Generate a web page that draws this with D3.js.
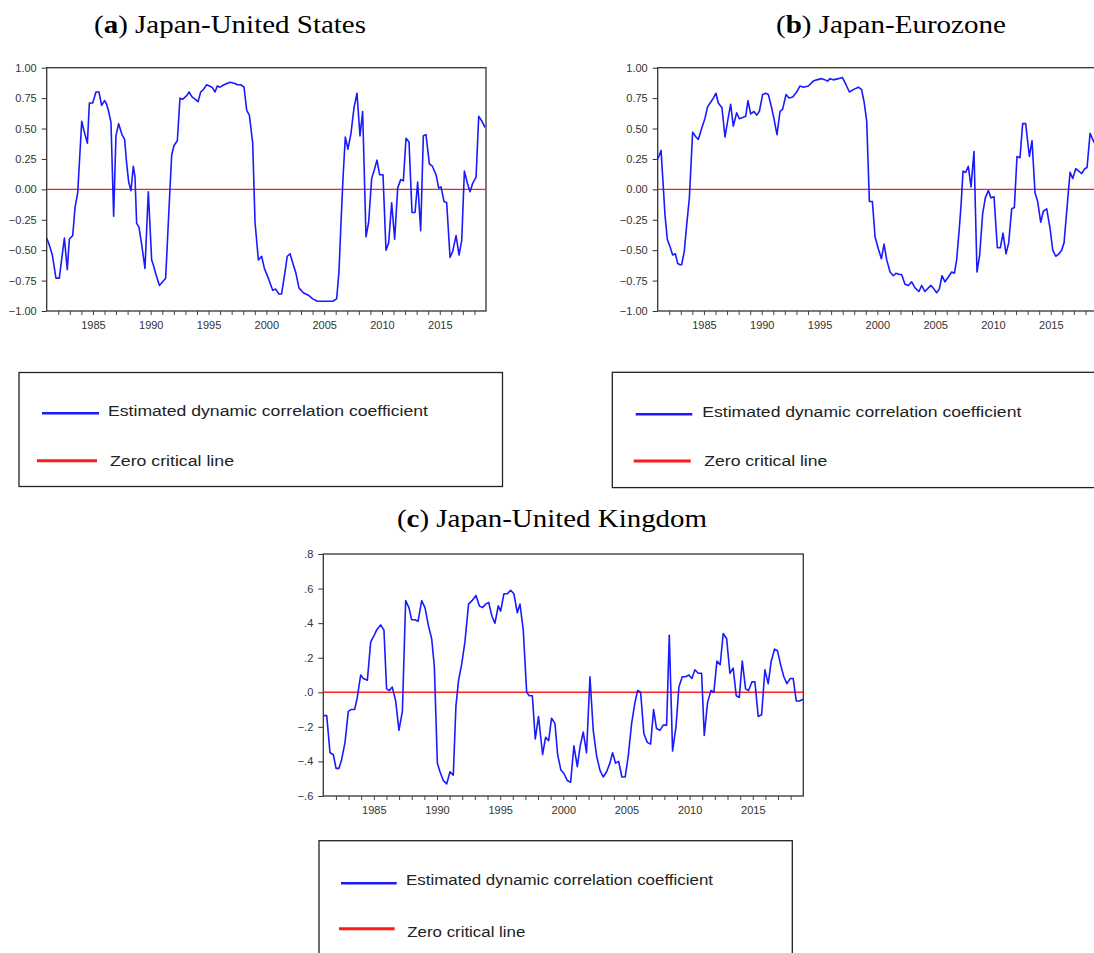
<!DOCTYPE html>
<html><head><meta charset="utf-8">
<script src="https://cdn.jsdelivr.net/npm/d3@7"></script>
<style>body{margin:0;background:#fff}svg{display:block}</style>
</head><body>
<svg id="chart" width="1094" height="953"></svg>
<script>
// ---------- data ----------
const usYears=[1981.00,1981.23,1981.49,1981.80,1982.09,1982.53,1982.78,1982.96,1983.25,1983.45,1983.68,1984.03,1984.23,1984.52,1984.69,1984.98,1985.26,1985.52,1985.75,1986.01,1986.18,1986.36,1986.56,1986.79,1986.99,1987.22,1987.51,1987.74,1987.91,1988.09,1988.29,1988.49,1988.64,1988.78,1988.98,1989.21,1989.50,1989.79,1990.08,1990.22,1990.45,1990.75,1991.03,1991.29,1991.61,1991.81,1992.01,1992.30,1992.53,1992.76,1993.11,1993.31,1993.57,1993.86,1994.09,1994.32,1994.55,1994.84,1995.07,1995.30,1995.56,1995.76,1995.99,1996.34,1996.86,1997.29,1997.49,1997.78,1998.07,1998.30,1998.53,1998.82,1999.02,1999.31,1999.59,1999.83,2000.17,2000.55,2000.81,2001.09,2001.32,2001.61,2001.81,2002.05,2002.33,2002.56,2002.82,2003.20,2003.63,2004.01,2004.41,2004.93,2005.36,2005.74,2006.08,2006.28,2006.46,2006.63,2006.83,2007.06,2007.32,2007.58,2007.84,2008.10,2008.33,2008.62,2008.85,2009.11,2009.34,2009.57,2009.80,2010.09,2010.35,2010.58,2010.84,2011.10,2011.36,2011.62,2011.85,2012.08,2012.34,2012.60,2012.86,2013.09,2013.35,2013.58,2013.81,2014.10,2014.36,2014.68,2014.91,2015.11,2015.37,2015.60,2015.89,2016.12,2016.41,2016.67,2016.90,2017.13,2017.39,2017.62,2017.85,2018.14,2018.37,2018.65,2018.91];
const usCorr=[-0.40,-0.46,-0.54,-0.73,-0.73,-0.40,-0.66,-0.41,-0.38,-0.15,-0.03,0.56,0.48,0.38,0.71,0.71,0.80,0.80,0.69,0.73,0.70,0.64,0.55,-0.22,0.44,0.54,0.45,0.41,0.22,0.06,-0.01,0.19,0.10,-0.28,-0.31,-0.45,-0.65,-0.02,-0.58,-0.62,-0.70,-0.79,-0.76,-0.73,-0.10,0.28,0.36,0.40,0.75,0.74,0.77,0.80,0.76,0.74,0.72,0.80,0.82,0.86,0.85,0.84,0.80,0.85,0.84,0.86,0.88,0.87,0.86,0.86,0.84,0.65,0.61,0.38,-0.27,-0.58,-0.55,-0.65,-0.73,-0.83,-0.82,-0.86,-0.86,-0.68,-0.55,-0.53,-0.62,-0.69,-0.81,-0.85,-0.87,-0.90,-0.92,-0.92,-0.92,-0.92,-0.90,-0.68,-0.27,0.09,0.43,0.33,0.46,0.67,0.79,0.44,0.64,-0.39,-0.27,0.09,0.16,0.24,0.12,0.12,-0.50,-0.44,-0.11,-0.41,0.01,0.08,0.07,0.42,0.39,-0.19,-0.19,0.06,-0.34,0.44,0.45,0.21,0.19,0.12,0.01,0.02,-0.10,-0.11,-0.56,-0.51,-0.38,-0.54,-0.42,0.15,0.05,-0.02,0.05,0.10,0.60,0.56,0.51];

const euYears=[1981.00,1981.14,1981.29,1981.49,1981.63,1981.83,1982.06,1982.29,1982.53,1982.73,1982.93,1983.07,1983.30,1983.51,1983.74,1984.02,1984.31,1984.51,1984.80,1985.08,1985.32,1985.61,1985.81,1986.04,1986.24,1986.56,1986.82,1987.05,1987.31,1987.54,1987.83,1988.06,1988.35,1988.61,1988.81,1989.04,1989.33,1989.56,1989.79,1990.08,1990.34,1990.57,1990.83,1991.06,1991.32,1991.58,1991.81,1992.10,1992.36,1992.68,1993.02,1993.31,1993.60,1994.03,1994.46,1994.75,1995.18,1995.47,1995.70,1995.90,1996.19,1996.62,1996.97,1997.29,1997.58,1997.92,1998.36,1998.64,1998.85,1999.08,1999.31,1999.57,1999.80,2000.09,2000.35,2000.58,2000.81,2001.10,2001.38,2001.61,2001.90,2002.10,2002.39,2002.68,2002.97,2003.26,2003.60,2003.83,2004.12,2004.41,2004.64,2004.90,2005.13,2005.36,2005.59,2005.85,2006.14,2006.43,2006.66,2006.86,2007.09,2007.24,2007.41,2007.64,2007.87,2008.10,2008.36,2008.62,2008.85,2009.11,2009.34,2009.60,2009.83,2010.09,2010.38,2010.64,2010.87,2011.13,2011.36,2011.62,2011.85,2012.08,2012.34,2012.57,2012.83,2013.15,2013.38,2013.64,2013.87,2014.13,2014.36,2014.65,2014.94,2015.17,2015.43,2015.71,2015.94,2016.15,2016.38,2016.67,2016.90,2017.16,2017.42,2017.68,2017.94,2018.14,2018.40,2018.68,2018.90];
const euCorr=[0.25,0.28,0.32,0.01,-0.21,-0.41,-0.47,-0.54,-0.53,-0.61,-0.62,-0.62,-0.51,-0.29,-0.07,0.47,0.43,0.41,0.50,0.58,0.68,0.72,0.75,0.79,0.71,0.67,0.43,0.56,0.70,0.52,0.63,0.58,0.59,0.60,0.73,0.62,0.64,0.61,0.64,0.78,0.79,0.78,0.68,0.58,0.45,0.64,0.66,0.78,0.75,0.76,0.80,0.85,0.84,0.85,0.89,0.90,0.91,0.90,0.89,0.91,0.90,0.91,0.92,0.86,0.80,0.82,0.84,0.82,0.72,0.56,-0.10,-0.10,-0.39,-0.49,-0.57,-0.45,-0.58,-0.68,-0.71,-0.69,-0.70,-0.70,-0.78,-0.79,-0.76,-0.81,-0.84,-0.79,-0.84,-0.81,-0.79,-0.82,-0.85,-0.82,-0.71,-0.76,-0.72,-0.68,-0.69,-0.58,-0.32,-0.13,0.15,0.14,0.19,0.02,0.31,-0.68,-0.54,-0.20,-0.07,-0.01,-0.07,-0.06,-0.48,-0.48,-0.36,-0.53,-0.44,-0.16,-0.15,0.27,0.26,0.54,0.54,0.27,0.40,-0.03,-0.10,-0.27,-0.18,-0.16,-0.32,-0.50,-0.55,-0.53,-0.50,-0.44,-0.18,0.14,0.09,0.17,0.15,0.13,0.17,0.18,0.46,0.40,0.36];

const ukYears=[1981.00,1981.27,1981.53,1981.79,1982.01,1982.24,1982.45,1982.72,1982.98,1983.19,1983.48,1983.69,1983.96,1984.17,1984.49,1984.75,1984.96,1985.22,1985.54,1985.80,1986.01,1986.23,1986.46,1986.73,1986.99,1987.26,1987.52,1987.78,1987.99,1988.26,1988.50,1988.79,1989.05,1989.31,1989.58,1989.79,1990.03,1990.24,1990.50,1990.77,1991.03,1991.29,1991.50,1991.71,1991.95,1992.21,1992.50,1992.77,1993.09,1993.35,1993.61,1993.85,1994.09,1994.35,1994.59,1994.85,1995.04,1995.30,1995.57,1995.83,1996.09,1996.36,1996.57,1996.83,1997.10,1997.31,1997.55,1997.78,1998.04,1998.36,1998.60,1998.84,1999.07,1999.34,1999.55,1999.81,2000.05,2000.31,2000.58,2000.84,2001.11,2001.34,2001.58,2001.84,2002.11,2002.37,2002.64,2002.90,2003.16,2003.43,2003.69,2003.90,2004.14,2004.38,2004.64,2004.90,2005.14,2005.41,2005.67,2005.88,2006.12,2006.38,2006.65,2006.91,2007.15,2007.38,2007.65,2007.91,2008.18,2008.39,2008.65,2008.92,2009.15,2009.42,2009.68,2009.94,2010.18,2010.42,2010.68,2010.95,2011.16,2011.42,2011.69,2011.92,2012.16,2012.42,2012.66,2012.93,2013.19,2013.45,2013.69,2013.93,2014.17,2014.43,2014.67,2014.93,2015.17,2015.43,2015.70,2015.96,2016.22,2016.46,2016.73,2016.96,2017.20,2017.46,2017.70,2017.97,2018.20,2018.44,2018.70,2018.99];
const ukCorr=[-0.135,-0.135,-0.35,-0.36,-0.44,-0.44,-0.39,-0.29,-0.11,-0.10,-0.10,-0.03,0.10,0.08,0.07,0.29,0.32,0.36,0.39,0.36,0.02,0.01,0.03,-0.05,-0.22,-0.11,0.53,0.49,0.42,0.42,0.41,0.53,0.49,0.39,0.31,0.15,-0.41,-0.46,-0.51,-0.53,-0.46,-0.48,-0.08,0.07,0.16,0.29,0.51,0.53,0.56,0.50,0.49,0.51,0.52,0.44,0.40,0.50,0.47,0.57,0.57,0.59,0.57,0.46,0.51,0.36,0.00,-0.02,-0.02,-0.27,-0.14,-0.36,-0.26,-0.28,-0.15,-0.18,-0.36,-0.45,-0.47,-0.51,-0.52,-0.31,-0.43,-0.31,-0.23,-0.35,0.09,-0.22,-0.37,-0.45,-0.49,-0.46,-0.41,-0.35,-0.41,-0.40,-0.49,-0.49,-0.37,-0.18,-0.06,0.01,0.00,-0.24,-0.29,-0.30,-0.10,-0.21,-0.22,-0.19,-0.19,0.33,-0.34,-0.20,0.03,0.09,0.09,0.10,0.08,0.13,0.11,0.11,-0.25,-0.06,0.01,0.00,0.18,0.16,0.34,0.31,0.11,0.14,-0.02,-0.03,0.18,0.02,0.01,0.06,0.06,-0.14,-0.13,0.13,0.05,0.18,0.25,0.24,0.16,0.09,0.05,0.08,0.08,-0.05,-0.05,-0.04];

const yearTicks=d3.range(1982,2019);
const labelYears=[1985,1990,1995,2000,2005,2010,2015];
const yTicksAB=[-1,-0.75,-0.5,-0.25,0,0.25,0.5,0.75,1];
const yTicksC=[-0.6,-0.4,-0.2,0,0.2,0.4,0.6,0.8];
const titleLetters=["a","b","c"];
const titleNames=["Japan-United States","Japan-Eurozone","Japan-United Kingdom"];
const legendLabels=["Estimated dynamic correlation coefficient","Zero critical line"];

// ---------- drawing ----------
const svg=d3.select("#chart");
svg.append("rect").attr("width",1094).attr("height",953).attr("fill","#fff");
const SANS="'Liberation Sans', Arial, sans-serif";
const SERIF="'Liberation Serif', 'Times New Roman', serif";

function panel(id,box,yDomain,yTicks,fmt,years,vals){
  const x=d3.scaleLinear().domain([1981,2019]).range([box.l,box.r]);
  const y=d3.scaleLinear().domain(yDomain).range([box.b,box.t]);
  const g=svg.append("g");
  g.append("clipPath").attr("id","clip"+id).append("rect")
    .attr("x",box.l).attr("y",box.t).attr("width",box.r-box.l).attr("height",box.b-box.t);
  // y axis
  const ya=g.append("g").attr("transform",`translate(${box.l},0)`)
    .call(d3.axisLeft(y).tickValues(yTicks).tickSize(5).tickPadding(5).tickFormat(fmt));
  ya.select(".domain").remove();
  ya.selectAll("line").attr("stroke","#333");
  ya.selectAll("text").attr("font-family",SANS).attr("font-size",11).attr("fill","#333");
  // x axis: yearly ticks, labels every five years
  const xa=g.append("g").attr("transform",`translate(0,${box.b})`)
    .call(d3.axisBottom(x).tickValues(yearTicks).tickSize(4).tickPadding(6)
      .tickFormat(d=>labelYears.includes(d)?String(d):""));
  xa.select(".domain").remove();
  xa.selectAll("line").attr("stroke","#444");
  xa.selectAll("text").attr("font-family",SANS).attr("font-size",11).attr("fill","#333");
  // frame
  g.append("rect").attr("x",box.l).attr("y",box.t).attr("width",box.r-box.l).attr("height",box.b-box.t)
    .attr("fill","none").attr("stroke","#333").attr("stroke-width",1.3);
  // zero line
  g.append("line").attr("clip-path",`url(#clip${id})`)
    .attr("x1",box.l).attr("x2",box.r).attr("y1",y(0)).attr("y2",y(0))
    .attr("stroke","#ff2020").attr("stroke-width",1.4);
  // series
  const pts=years.map((t,i)=>[t,vals[i]]);
  g.append("path").datum(pts).attr("clip-path",`url(#clip${id})`)
    .attr("d",d3.line().x(d=>x(d[0])).y(d=>y(d[1])))
    .attr("fill","none").attr("stroke","#1a1aff").attr("stroke-width",1.6)
    .attr("stroke-linejoin","round");
}

function title(i,x,base,w){
  const t=svg.append("text").attr("x",x).attr("y",base)
    .attr("font-family",SERIF).attr("font-size",25.5).attr("fill","#000")
    .attr("textLength",w).attr("lengthAdjust","spacingAndGlyphs");
  t.append("tspan").text("(");
  t.append("tspan").attr("font-weight","bold").text(titleLetters[i]);
  t.append("tspan").text(") "+titleNames[i]);
}

function legend(bx,lines){
  svg.append("rect").attr("x",bx.x).attr("y",bx.y).attr("width",bx.w).attr("height",bx.h)
    .attr("fill","none").attr("stroke","#222").attr("stroke-width",1.3);
  const cols=["#1a1aff","#ff1a1a"];
  lines.forEach((l,i)=>{
    svg.append("line").attr("x1",l.x1).attr("x2",l.x2).attr("y1",l.y).attr("y2",l.y)
      .attr("stroke",cols[i]).attr("stroke-width",i===0?2.6:3);
    svg.append("text").attr("x",l.tx).attr("y",l.ty).text(legendLabels[i])
      .attr("font-family",SANS).attr("font-size",15.5).attr("fill","#222")
      .attr("textLength",l.tw).attr("lengthAdjust","spacingAndGlyphs");
  });
}

const fmtAB=d3.format(".2f");
const fmtC=d=>d3.format(".1f")(d).replace("0.",".");

panel("a",{l:46.7,r:486,t:67.7,b:311},[-1,1],yTicksAB,fmtAB,usYears,usCorr);
panel("b",{l:657.7,r:1097,t:67.7,b:311},[-1,1],yTicksAB,fmtAB,euYears,euCorr);
panel("c",{l:323.3,r:803.3,t:554,b:796},[-0.6,0.8],yTicksC,fmtC,ukYears,ukCorr);

title(0,94,33,272);
title(1,776,33,230);
title(2,397,526.5,310);

legend({x:19,y:372.5,w:483.5,h:114},[
  {x1:42,x2:99,y:413.3,tx:108,ty:415.5,tw:320},
  {x1:37,x2:97,y:460.7,tx:110,ty:466,tw:124}]);
legend({x:612.3,y:372.3,w:520,h:115.3},[
  {x1:635.7,x2:692.3,y:414.3,tx:702.3,ty:416.5,tw:319},
  {x1:633.7,x2:690.7,y:461,tx:704.3,ty:466,tw:123}]);
legend({x:319,y:840.7,w:473.3,h:140},[
  {x1:341,x2:396.7,y:883.3,tx:406,ty:885,tw:307},
  {x1:339,x2:394.7,y:928.7,tx:407.3,ty:936.5,tw:118}]);
</script>
</body></html>
